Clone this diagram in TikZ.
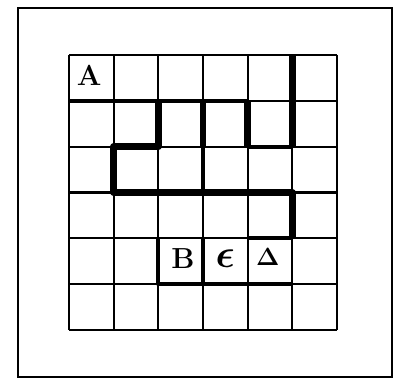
\documentclass[tikz,border=0pt]{standalone}
\usepackage{amsmath}
\usepackage{fontspec}
\usepackage{tikz}
\tikzset{
  frame/.style={draw=black, line width=2pt},
  gridline/.style={draw=black, line width=2.2pt},
  halfwall/.style={draw=black, line width=3.8pt, line join=round},
  wall/.style={draw=black, line width=6.5pt, line join=round},
  letter/.style={font=\fontsize{29}{32}\selectfont\bfseries, inner sep=0pt}
}

\begin{document}
\begin{tikzpicture}[x=1pt, y=-1pt]
  \useasboundingbox (0,0) rectangle (396,379);
  \draw[frame] (18,8) rectangle (392,377);

  \begin{scope}[shift={(69,55)}, x=44.67pt, y=-45.83pt]
    % board
    \foreach \i in {0,...,6} {
      \draw[gridline] (\i,0) -- (\i,6);
      \draw[gridline] (0,\i) -- (6,\i);
    }

    % walls
    \draw[halfwall] (0,1) -- (4,1);
    \draw[wall] (5,0) -- (5,2);
    \draw[wall] (2,1) -- (2,2) -- (1,2) -- (1,3) -- (5,3) -- (5,4);
    \draw[wall] (3,1) -- (3,2);
    \draw[halfwall] (3,2) -- (3,3);
    \draw[wall] (4,1) -- (4,2);
    \draw[halfwall] (4,2) -- (5,2);
    \draw[halfwall] (4,4) -- (5,4);
    \draw[halfwall] (2,4) -- (2,5) -- (5,5);
    \draw[halfwall] (3,4) -- (3,5);

    % letters
    \node[letter] (cellA) at (0.45,0.45) {A};
    \node[letter] (cellB) at (2.55,4.45) {B};
    \node[letter] (cellE) at (3.5,4.45) {\scalebox{1.6}{$\boldsymbol{\epsilon}$}};
    \node[letter] (cellD) at (4.45,4.4) {$\boldsymbol{\Delta}$};
  \end{scope}
\end{tikzpicture}
\end{document}
